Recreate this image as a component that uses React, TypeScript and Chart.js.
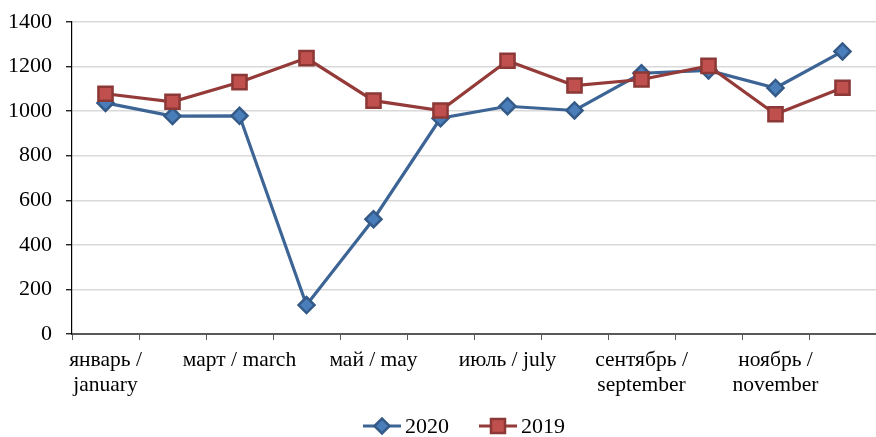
import React, { useEffect, useRef } from "react";
import { Chart, registerables } from "chart.js";

Chart.register(...registerables);

// Monthly values, thousands
const categories = [
  "январь / january",
  "февраль / february",
  "март / march",
  "апрель / april",
  "май / may",
  "июнь / june",
  "июль / july",
  "август / august",
  "сентябрь / september",
  "октябрь / october",
  "ноябрь / november",
  "декабрь / december",
];

// Axis labels shown under every other month
const tickLabels: (string | string[])[] = [
  ["январь /", "january"],
  "",
  "март / march",
  "",
  "май / may",
  "",
  "июль / july",
  "",
  ["сентябрь /", "september"],
  "",
  ["ноябрь /", "november"],
  "",
];

const series2020 = [1037, 978, 979, 130, 515, 968, 1022, 1003, 1170, 1183, 1104, 1268];
const series2019 = [1078, 1042, 1130, 1238, 1047, 1003, 1226, 1115, 1142, 1203, 986, 1105];

const yTicks = { min: 0, max: 1400, step: 200 };

const FONT = "'Liberation Serif', 'Times New Roman', serif";

const BLUE_LINE = "#3C6494";
const BLUE_FILL = "#4A7EBB";
const BLUE_EDGE = "#345A88";
const RED_LINE = "#943A38";
const RED_FILL = "#C0504D";
const RED_EDGE = "#8B3836";

// Legend drawn at the bottom: a line sample with its marker, then the label
const bottomLegend = {
  id: "bottomLegend",
  afterDraw(chart: any) {
    const { ctx, chartArea } = chart;
    const datasets = chart.data.datasets;
    ctx.save();
    ctx.font = `22px ${FONT}`;
    ctx.textBaseline = "middle";
    const symW = 38;
    const gap = 4;
    const itemGap = 30;
    const widths = datasets.map(
      (d: any) => symW + gap + ctx.measureText(d.label).width
    );
    const total =
      widths.reduce((a: number, b: number) => a + b, 0) + itemGap * (datasets.length - 1);
    let x = (chartArea.left + chartArea.right) / 2 - 10 - total / 2;
    const y = chart.height - 11;
    datasets.forEach((d: any, i: number) => {
      ctx.strokeStyle = d.borderColor;
      ctx.lineWidth = 3;
      ctx.beginPath();
      ctx.moveTo(x, y);
      ctx.lineTo(x + symW, y);
      ctx.stroke();
      const cx = x + symW / 2;
      ctx.beginPath();
      if (d.pointStyle === "rectRot") {
        const r = 7.5;
        ctx.moveTo(cx - r, y);
        ctx.lineTo(cx, y - r);
        ctx.lineTo(cx + r, y);
        ctx.lineTo(cx, y + r);
        ctx.closePath();
      } else {
        const s = 7;
        ctx.rect(cx - s, y - s, 2 * s, 2 * s);
      }
      ctx.fillStyle = d.pointBackgroundColor;
      ctx.fill();
      ctx.lineWidth = d.pointBorderWidth;
      ctx.strokeStyle = d.pointBorderColor;
      ctx.stroke();
      ctx.fillStyle = "#000";
      ctx.textAlign = "left";
      ctx.fillText(d.label, x + symW + gap, y + 1);
      x += widths[i] + itemGap;
    });
    ctx.restore();
  },
};

export default function App() {
  const canvasRef = useRef<HTMLCanvasElement | null>(null);

  useEffect(() => {
    if (!canvasRef.current) return;
    Chart.defaults.font.family = FONT;
    Chart.defaults.font.size = 21.5;
    Chart.defaults.color = "#000";

    const chart = new Chart(canvasRef.current, {
      type: "line",
      data: {
        labels: categories,
        datasets: [
          {
            label: "2020",
            data: series2020,
            borderColor: BLUE_LINE,
            borderWidth: 3.2,
            pointStyle: "rectRot",
            pointRadius: 8,
            pointBackgroundColor: BLUE_FILL,
            pointBorderColor: BLUE_EDGE,
            pointBorderWidth: 2.5,
            tension: 0,
            order: 1,
          },
          {
            label: "2019",
            data: series2019,
            borderColor: RED_LINE,
            borderWidth: 3.2,
            pointStyle: "rect",
            pointRadius: 10,
            pointBackgroundColor: RED_FILL,
            pointBorderColor: RED_EDGE,
            pointBorderWidth: 2.5,
            tension: 0,
            order: 0,
          },
        ],
      },
      options: {
        responsive: false,
        animation: false,
        layout: { autoPadding: false, padding: { top: 22, right: 0, bottom: 30, left: 0 } },
        plugins: {
          legend: { display: false },
          tooltip: { enabled: false },
        },
        scales: {
          x: {
            offset: true,
            grid: {
              offset: true,
              drawOnChartArea: false,
              tickLength: 6,
              tickColor: "#595959",
              tickWidth: 1,
            },
            border: { color: "#595959", width: 2 },
            ticks: {
              autoSkip: false,
              maxRotation: 0,
              minRotation: 0,
              padding: 7,
              font: { size: 21.5, lineHeight: 1.2 },
              callback: (_v: any, i: number) => tickLabels[i],
            },
            afterFit: (scale: any) => {
              scale.height = 73;
              scale.paddingLeft = 0;
              scale.paddingRight = 0;
            },
          },
          y: {
            min: yTicks.min,
            max: yTicks.max,
            grid: {
              color: "#D9D9D9",
              lineWidth: 1.5,
              tickLength: 6,
              tickColor: "#000",
              tickWidth: 1.2,
            },
            border: { color: "#000", width: 1.2 },
            ticks: {
              stepSize: yTicks.step,
              padding: 14,
              font: { size: 22 },
              callback: (v: any) => String(v),
            },
            afterFit: (scale: any) => {
              scale.width = 72;
              scale.paddingTop = 0;
              scale.paddingBottom = 0;
            },
          },
        },
      },
      plugins: [bottomLegend],
    });

    return () => chart.destroy();
  }, []);

  return (
    <div style={{ position: "absolute", left: 0, top: 0, width: 876, height: 437, background: "#fff" }}>
      <canvas ref={canvasRef} width={876} height={437} />
    </div>
  );
}
